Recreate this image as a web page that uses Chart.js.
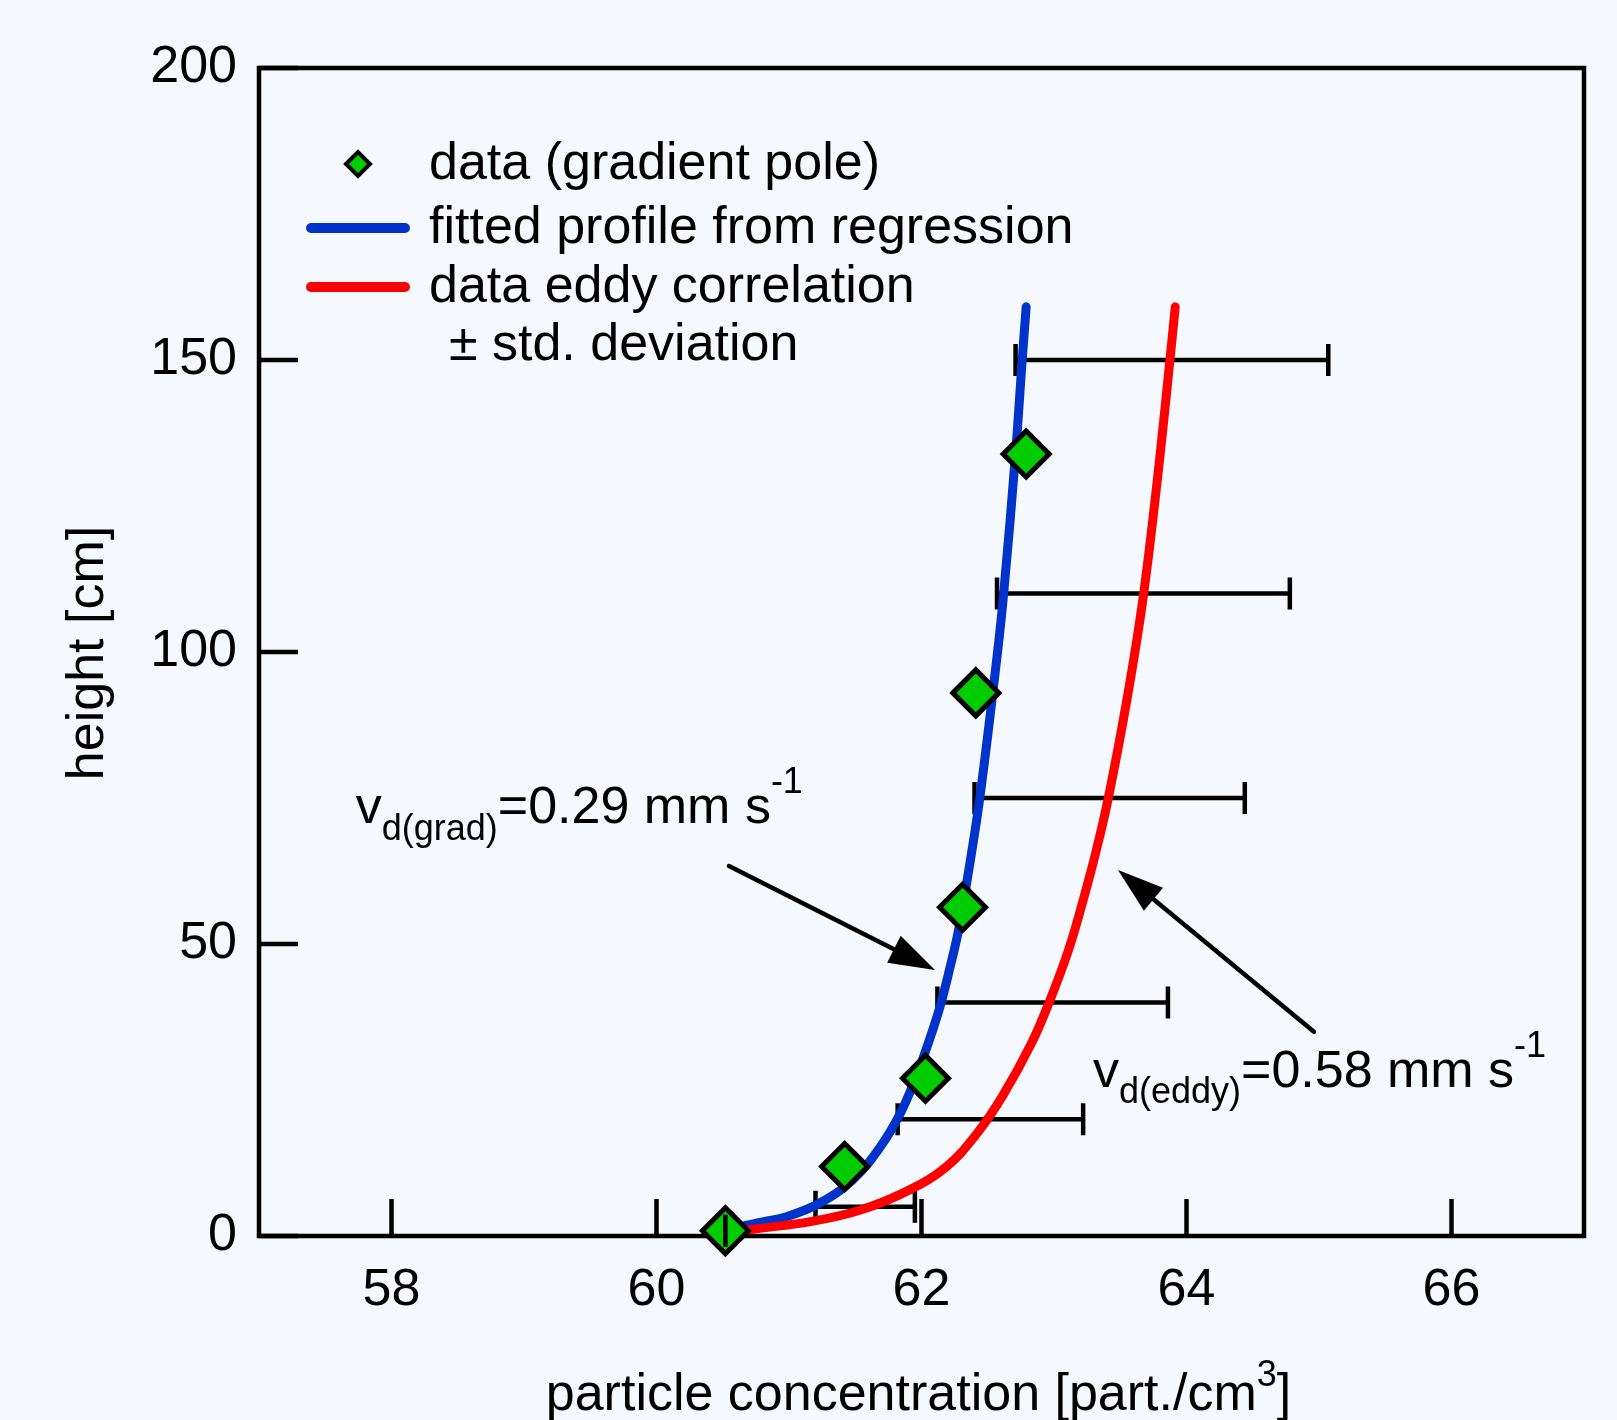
<!DOCTYPE html>
<html>
<head>
<meta charset="utf-8">
<script src="https://cdn.jsdelivr.net/npm/chart.js@4.4.0/dist/chart.umd.min.js"></script>
<style>
  body { margin: 0; background: #f5f9fd; }
  #wrap { width: 1617px; height: 1420px; }
</style>
</head>
<body>
<div id="wrap"><canvas id="chart" width="1617" height="1420"></canvas></div>
<script>
// gradient pole measurements
const poleConc = [60.52, 61.42, 62.03, 62.31, 62.41, 62.79];
const poleHeight = [0.9, 11.9, 27.0, 56.3, 93.0, 133.9];

// fitted profile from regression
const fitConc = [60.67, 60.81, 60.98, 61.23, 61.48, 61.69, 61.84, 61.96, 62.06, 62.14, 62.21, 62.28, 62.345, 62.44, 62.57, 62.62, 62.71, 62.76, 62.79];
const fitHeight = [1.8, 2.45, 3.3, 5.6, 9.6, 15.3, 21.0, 27.3, 33.6, 39.3, 45.5, 52.4, 61, 75, 99.2, 110, 134, 150, 159.1];

// eddy correlation profile
const eddyConc = [60.65, 60.78, 61.16, 61.54, 61.91, 62.19, 62.42, 62.61, 62.83, 62.97, 63.11, 63.22, 63.32, 63.41, 63.55, 63.67, 63.78, 63.875, 63.915];
const eddyHeight = [0.9, 1.3, 2.45, 4.45, 7.9, 11.9, 17.6, 23.9, 33.0, 40.4, 49.0, 57.5, 66.1, 75.0, 91.8, 108.9, 129.5, 150, 159.1];

// +- std. deviation of eddy correlation
const sdHeight = [0.9, 5, 20, 40, 75, 110, 150];
const sdLow = [60.52, 61.2, 61.82, 62.12, 62.40, 62.57, 62.71];
const sdHigh = [60.52, 61.95, 63.22, 63.86, 64.44, 64.78, 65.07];

const xTicks = [58, 60, 62, 64, 66];
const yTicks = [0, 50, 100, 150, 200];

const family = '"Liberation Sans", Arial, sans-serif';
const font = size => size + 'px ' + family;

function toPoints(xs, ys) {
    return xs.map((x, i) => ({ x: x, y: ys[i] }));
}

function richText(ctx, x, y, parts, align) {
    let w = 0;
    parts.forEach(p => { ctx.font = font(p[1]); w += ctx.measureText(p[0]).width; });
    let cx = align === 'center' ? x - w / 2 : x;
    parts.forEach(p => {
        ctx.font = font(p[1]);
        ctx.fillText(p[0], cx, y + p[2]);
        cx += ctx.measureText(p[0]).width;
    });
}

function arrow(ctx, x0, y0, x1, y1) {
    const a = Math.atan2(y1 - y0, x1 - x0);
    const len = 46, half = 15;
    const bx = x1 - len * Math.cos(a), by = y1 - len * Math.sin(a);
    ctx.lineWidth = 4.5;
    ctx.lineCap = 'round';
    ctx.beginPath();
    ctx.moveTo(x0, y0);
    ctx.lineTo(bx, by);
    ctx.stroke();
    ctx.beginPath();
    ctx.moveTo(x1, y1);
    ctx.lineTo(bx - half * Math.sin(a), by + half * Math.cos(a));
    ctx.lineTo(bx + half * Math.sin(a), by - half * Math.cos(a));
    ctx.closePath();
    ctx.fill();
}

function diamond(ctx, x, y, r, lw) {
    ctx.beginPath();
    ctx.moveTo(x - r, y);
    ctx.lineTo(x, y - r);
    ctx.lineTo(x + r, y);
    ctx.lineTo(x, y + r);
    ctx.closePath();
    ctx.fillStyle = '#00cc00';
    ctx.fill();
    ctx.lineWidth = lw;
    ctx.strokeStyle = '#000';
    ctx.lineJoin = 'miter';
    ctx.stroke();
}

function drawBars(chart, onlyCaps) {
    const ctx = chart.ctx;
    const xs = chart.scales.x, ys = chart.scales.y;
    ctx.save();
    ctx.strokeStyle = '#000';
    ctx.lineWidth = 4.5;
    for (let i = 0; i < sdHeight.length; i++) {
        const zero = sdLow[i] === sdHigh[i];
        if (zero !== onlyCaps) continue;
        const y = ys.getPixelForValue(sdHeight[i]);
        const x0 = xs.getPixelForValue(sdLow[i]);
        const x1 = xs.getPixelForValue(sdHigh[i]);
        ctx.beginPath();
        ctx.moveTo(x0, y); ctx.lineTo(x1, y);
        ctx.moveTo(x0, y - 16); ctx.lineTo(x0, y + 16);
        ctx.moveTo(x1, y - 16); ctx.lineTo(x1, y + 16);
        ctx.stroke();
    }
    ctx.restore();
}

const decorPlugin = {
    id: 'decor',
    beforeDatasetsDraw(chart) {
        const ctx = chart.ctx;
        const a = chart.chartArea;
        const xs = chart.scales.x, ys = chart.scales.y;
        ctx.save();
        ctx.strokeStyle = '#000';
        ctx.lineWidth = 4.5;
        ctx.strokeRect(a.left, a.top, a.right - a.left, a.bottom - a.top);
        ctx.beginPath();
        yTicks.forEach(v => {
            const y = ys.getPixelForValue(v);
            ctx.moveTo(a.left, y); ctx.lineTo(a.left + 39, y);
        });
        xTicks.forEach(v => {
            const x = xs.getPixelForValue(v);
            ctx.moveTo(x, a.bottom); ctx.lineTo(x, a.bottom - 37);
        });
        ctx.stroke();
        ctx.restore();
        drawBars(chart, false);
    },
    afterDatasetsDraw(chart) {
        const ctx = chart.ctx;
        const xs = chart.scales.x, ys = chart.scales.y;
        drawBars(chart, true);
        ctx.save();
        ctx.fillStyle = '#000';
        ctx.strokeStyle = '#000';
        ctx.textBaseline = 'alphabetic';
        ctx.textAlign = 'left';

        // legend
        diamond(ctx, 358, 164, 12, 4);
        ctx.lineCap = 'round';
        ctx.lineWidth = 10;
        ctx.strokeStyle = '#0033cc';
        ctx.beginPath(); ctx.moveTo(311, 228); ctx.lineTo(405, 228); ctx.stroke();
        ctx.strokeStyle = '#ff0000';
        ctx.beginPath(); ctx.moveTo(311, 287); ctx.lineTo(405, 287); ctx.stroke();
        ctx.fillStyle = '#000';
        ctx.strokeStyle = '#000';
        ctx.font = font(52);
        ctx.fillText('data (gradient pole)', 429, 179);
        ctx.fillText('fitted profile from regression', 429, 243);
        ctx.fillText('data eddy correlation', 429, 302);
        ctx.fillText('\u00b1 std. deviation', 449, 360);

        // annotations
        richText(ctx, xs.getPixelForValue(57.73), ys.getPixelForValue(70.7),
            [['v', 52, 0], ['d(grad)', 36, 17], ['=0.29 mm s', 52, 0], ['-1', 36, -30]]);
        arrow(ctx, xs.getPixelForValue(60.547), ys.getPixelForValue(63.36),
            xs.getPixelForValue(62.102), ys.getPixelForValue(45.55));
        richText(ctx, xs.getPixelForValue(63.294), ys.getPixelForValue(25.5),
            [['v', 52, 0], ['d(eddy)', 36, 16], ['=0.58 mm s', 52, 0], ['-1', 36, -30]]);
        arrow(ctx, xs.getPixelForValue(64.962), ys.getPixelForValue(34.98),
            xs.getPixelForValue(63.483), ys.getPixelForValue(62.67));

        // axis titles
        const a = chart.chartArea;
        richText(ctx, (a.left + a.right) / 2 - 3, 1410,
            [['particle concentration [part./cm', 52, 0], ['3', 36, -24], [']', 52, 0]], 'center');
        ctx.translate(103, (a.top + a.bottom) / 2 + 1);
        ctx.rotate(-Math.PI / 2);
        ctx.textAlign = 'center';
        ctx.font = font(52);
        ctx.fillText('height [cm]', 0, 0);
        ctx.restore();
    }
};

new Chart(document.getElementById('chart'), {
    type: 'scatter',
    data: {
        datasets: [
            {
                label: 'data (gradient pole)',
                data: toPoints(poleConc, poleHeight),
                pointStyle: 'rectRot',
                pointRadius: 23,
                pointHoverRadius: 23,
                backgroundColor: '#00cc00',
                borderColor: '#000',
                borderWidth: 5,
                clip: false
            },
            {
                label: 'data eddy correlation',
                data: toPoints(eddyConc, eddyHeight),
                showLine: true,
                borderColor: '#ff0000',
                borderWidth: 9,
                borderCapStyle: 'round',
                borderJoinStyle: 'round',
                pointRadius: 0,
                tension: 0.4
            },
            {
                label: 'fitted profile from regression',
                data: toPoints(fitConc, fitHeight),
                showLine: true,
                borderColor: '#0033cc',
                borderWidth: 9,
                borderCapStyle: 'round',
                borderJoinStyle: 'round',
                pointRadius: 0,
                tension: 0.4
            }
        ]
    },
    options: {
        responsive: false,
        animation: false,
        events: [],
        layout: { padding: { left: 0, top: 68, right: 33, bottom: 0 } },
        plugins: { legend: { display: false }, tooltip: { enabled: false } },
        scales: {
            x: {
                type: 'linear',
                min: 57,
                max: 67,
                afterBuildTicks: s => { s.ticks = xTicks.map(v => ({ value: v })); },
                afterFit: s => { s.height = 184; },
                grid: { display: false, drawTicks: false },
                border: { display: false },
                ticks: { font: { size: 52, family: family }, color: '#000', padding: 23, maxRotation: 0 }
            },
            y: {
                type: 'linear',
                min: 0,
                max: 200,
                afterBuildTicks: s => { s.ticks = yTicks.map(v => ({ value: v })); },
                afterFit: s => { s.width = 259; },
                grid: { display: false, drawTicks: false },
                border: { display: false },
                ticks: { font: { size: 52, family: family }, color: '#000', padding: 22 }
            }
        }
    },
    plugins: [decorPlugin]
});
</script>
</body>
</html>
